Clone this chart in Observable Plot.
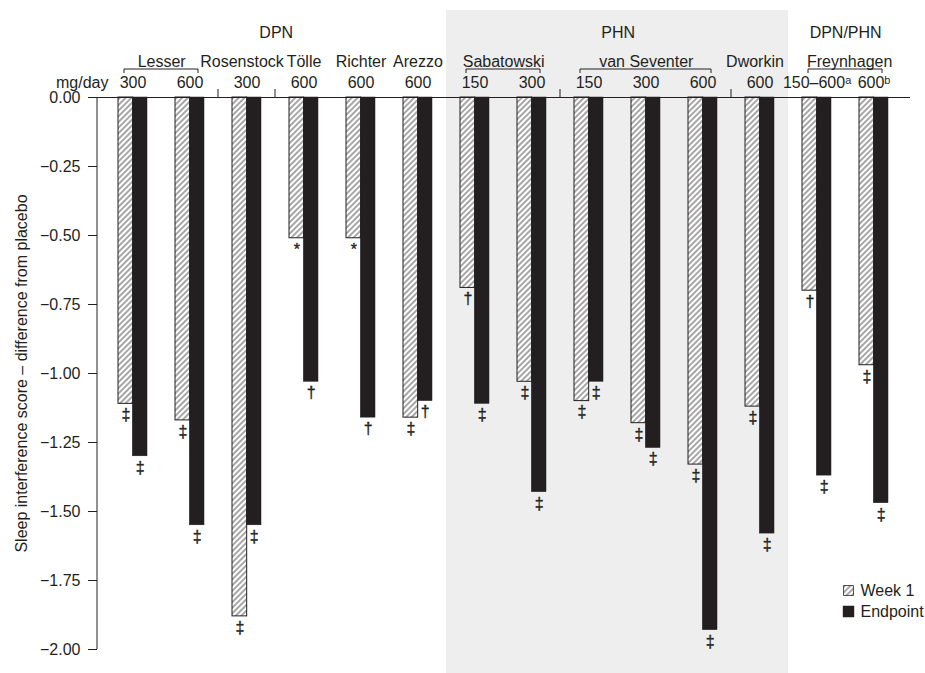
<!DOCTYPE html>
<html><head><meta charset="utf-8">
<script src="https://cdn.jsdelivr.net/npm/d3@7"></script>
<script src="https://cdn.jsdelivr.net/npm/@observablehq/plot@0.6"></script>
<style>html,body{margin:0;padding:0;background:#fff;}</style>
</head><body><div id="chart"></div>
<script>
// ---- data ----
const studies = ["Lesser 300","Lesser 600","Rosenstock 300","Tölle 600","Richter 600","Arezzo 600",
  "Sabatowski 150","Sabatowski 300","van Seventer 150","van Seventer 300","van Seventer 600","Dworkin 600",
  "Freynhagen 150–600","Freynhagen 600"];
const doses = ["300","600","300","600","600","600","150","300","150","300","600","600","150–600ᵃ","600ᵇ"];
const week1 = [-1.11,-1.17,-1.88,-0.51,-0.51,-1.16,-0.69,-1.03,-1.10,-1.18,-1.33,-1.12,-0.70,-0.97];
const endpoint = [-1.30,-1.55,-1.55,-1.03,-1.16,-1.10,-1.11,-1.43,-1.03,-1.27,-1.93,-1.58,-1.37,-1.47];
const week1Sig = ["‡","‡","‡","*","*","‡","†","‡","‡","‡","‡","‡","†","‡"];
const endpointSig = ["‡","‡","‡","†","†","†","‡","‡","‡","‡","‡","‡","‡","‡"];
const investigators = ["Lesser","Rosenstock","Tölle","Richter","Arezzo","Sabatowski","van Seventer","Dworkin","Freynhagen"];
const investigatorSpans = [[0,1],[2,2],[3,3],[4,4],[5,5],[6,7],[8,10],[11,11],[12,13]];
const populations = ["DPN","PHN","DPN/PHN"];
const populationSpans = [[0,5],[6,11],[12,13]];
const separatorsBefore = [2,3,8,11];
const shadedSpan = [6,11];
const yTicks = [0,-0.25,-0.5,-0.75,-1,-1.25,-1.5,-1.75,-2];
const seriesNames = ["Week 1","Endpoint"];
const yLabel = "Sleep interference score – difference from placebo";
const unitLabel = "mg/day";

// ---- layout ----
const W = 925, H = 673, mT = 97, mL = 97, mR = 15, mB = 24;
const ink = "#231f20";
const labelNudge = {"Rosenstock": -5, "Dworkin": -5, "Freynhagen": 4};
const xOpts = {type: "band", domain: studies, range: [mL + 5, W - mR - 6], paddingInner: 0.5, paddingOuter: 0.25, align: 0.5};
const XS = Plot.scale({x: xOpts});
const step = XS.step, bw = XS.bandwidth;

const rows = studies.map((s, i) => ({study: s, dose: doses[i], w1: week1[i], ep: endpoint[i], s1: week1Sig[i], s2: endpointSig[i]}));

const spanText = (labels, spans, dy) => labels.map((lab, j) => {
  const [a, b] = spans[j];
  return Plot.text([lab], {x: () => studies[a], text: d => d, frameAnchor: "top", lineAnchor: "middle", dy,
    dx: (b - a) * step / 2 + (labelNudge[lab] || 0), fill: ink});
});
const sigStyle = {dy: 5, lineAnchor: "top", fontSize: 16, fill: ink, stroke: ink, strokeWidth: 0.35};

const plot = Plot.plot({
  width: W, height: H, marginTop: mT, marginLeft: mL, marginRight: mR, marginBottom: mB,
  style: {fontFamily: "'Liberation Sans', Arial, Helvetica, sans-serif", fontSize: "16px", color: ink, background: "transparent", overflow: "visible"},
  x: {...xOpts, axis: null},
  y: {domain: [-2, 0]},
  marks: [
    Plot.barY(rows, {x: "study", y: "w1", fill: "url(#hatch)", stroke: ink, strokeWidth: 1, insetRight: bw / 2}),
    Plot.barY(rows, {x: "study", y: "ep", fill: ink, stroke: ink, strokeWidth: 0.5, insetLeft: bw / 2}),
    Plot.text(rows, {x: "study", y: "w1", text: "s1", dx: -bw / 4, ...sigStyle}),
    Plot.text(rows, {x: "study", y: "ep", text: "s2", dx: bw / 4, ...sigStyle}),
    Plot.ruleY([0], {stroke: ink, strokeWidth: 1}),
    Plot.axisY({ticks: yTicks, tickFormat: d3.format(".2f"), tickSize: 9, tickPadding: 8, stroke: ink, fill: ink,
      label: yLabel, labelAnchor: "center", labelArrow: false, labelOffset: 82}),
    Plot.text(rows, {x: "study", text: "dose", frameAnchor: "top", lineAnchor: "middle", dy: -15, fill: ink}),
    Plot.text([unitLabel], {text: d => d, frameAnchor: "top-left", lineAnchor: "middle", textAnchor: "end", dx: 11, dy: -15, fill: ink}),
    ...spanText(investigators, investigatorSpans, -36),
    ...spanText(populations, populationSpans, -65),
    // legend
    Plot.dot([seriesNames[0]], {frameAnchor: "bottom-right", dx: -62, dy: -59, symbol: "square", r: 5.6, fill: "url(#hatch)", stroke: ink, strokeWidth: 0.8}),
    Plot.dot([seriesNames[1]], {frameAnchor: "bottom-right", dx: -62, dy: -38, symbol: "square", r: 5.6, fill: ink, stroke: ink}),
    Plot.text([seriesNames[0]], {text: d => d, frameAnchor: "bottom-right", lineAnchor: "middle", textAnchor: "start", dx: -50, dy: -59, fill: ink}),
    Plot.text([seriesNames[1]], {text: d => d, frameAnchor: "bottom-right", lineAnchor: "middle", textAnchor: "start", dx: -50, dy: -38, fill: ink})
  ]
});

const svg = d3.select(plot);
const X = plot.scale("x");
const left = k => X.apply(k);
const gap = (X.step - X.bandwidth) / 2;

// shaded PHN panel (behind everything)
const px0 = left(studies[shadedSpan[0]]) - gap;
const px1 = left(studies[shadedSpan[1]]) + X.bandwidth + gap;
svg.insert("rect", ":first-child")
  .attr("x", px0).attr("width", px1 - px0)
  .attr("y", 10).attr("height", H - 10)
  .attr("fill", "#eeeeee");

// hatch pattern
const defs = svg.insert("defs", ":first-child");
const pat = defs.append("pattern").attr("id", "hatch").attr("patternUnits", "userSpaceOnUse")
  .attr("width", 4).attr("height", 4).attr("patternTransform", "rotate(45)");
pat.append("rect").attr("width", 4).attr("height", 4).attr("fill", "#fff");
pat.append("line").attr("x1", 2).attr("y1", 0).attr("x2", 2).attr("y2", 4).attr("stroke", ink).attr("stroke-width", 0.8);

// y axis line
svg.append("line").attr("x1", mL).attr("x2", mL).attr("y1", mT).attr("y2", H - mB).attr("stroke", ink);

// investigator brackets
const g = svg.append("g").attr("stroke", ink).attr("fill", "none").attr("stroke-width", 1);
investigatorSpans.forEach(([a, b]) => {
  if (a === b) return;
  const x1 = left(studies[a]) + 6, x2 = left(studies[b]) + X.bandwidth - 6, y = mT - 28;
  g.append("path").attr("d", `M${x1},${y + 4}V${y}H${x2}V${y + 4}`);
});
// separators
separatorsBefore.forEach(i => {
  const x = left(studies[i]) - gap;
  g.append("line").attr("x1", x).attr("x2", x).attr("y1", mT - 8).attr("y2", mT);
});

document.getElementById("chart").appendChild(plot);
</script>
</body></html>
